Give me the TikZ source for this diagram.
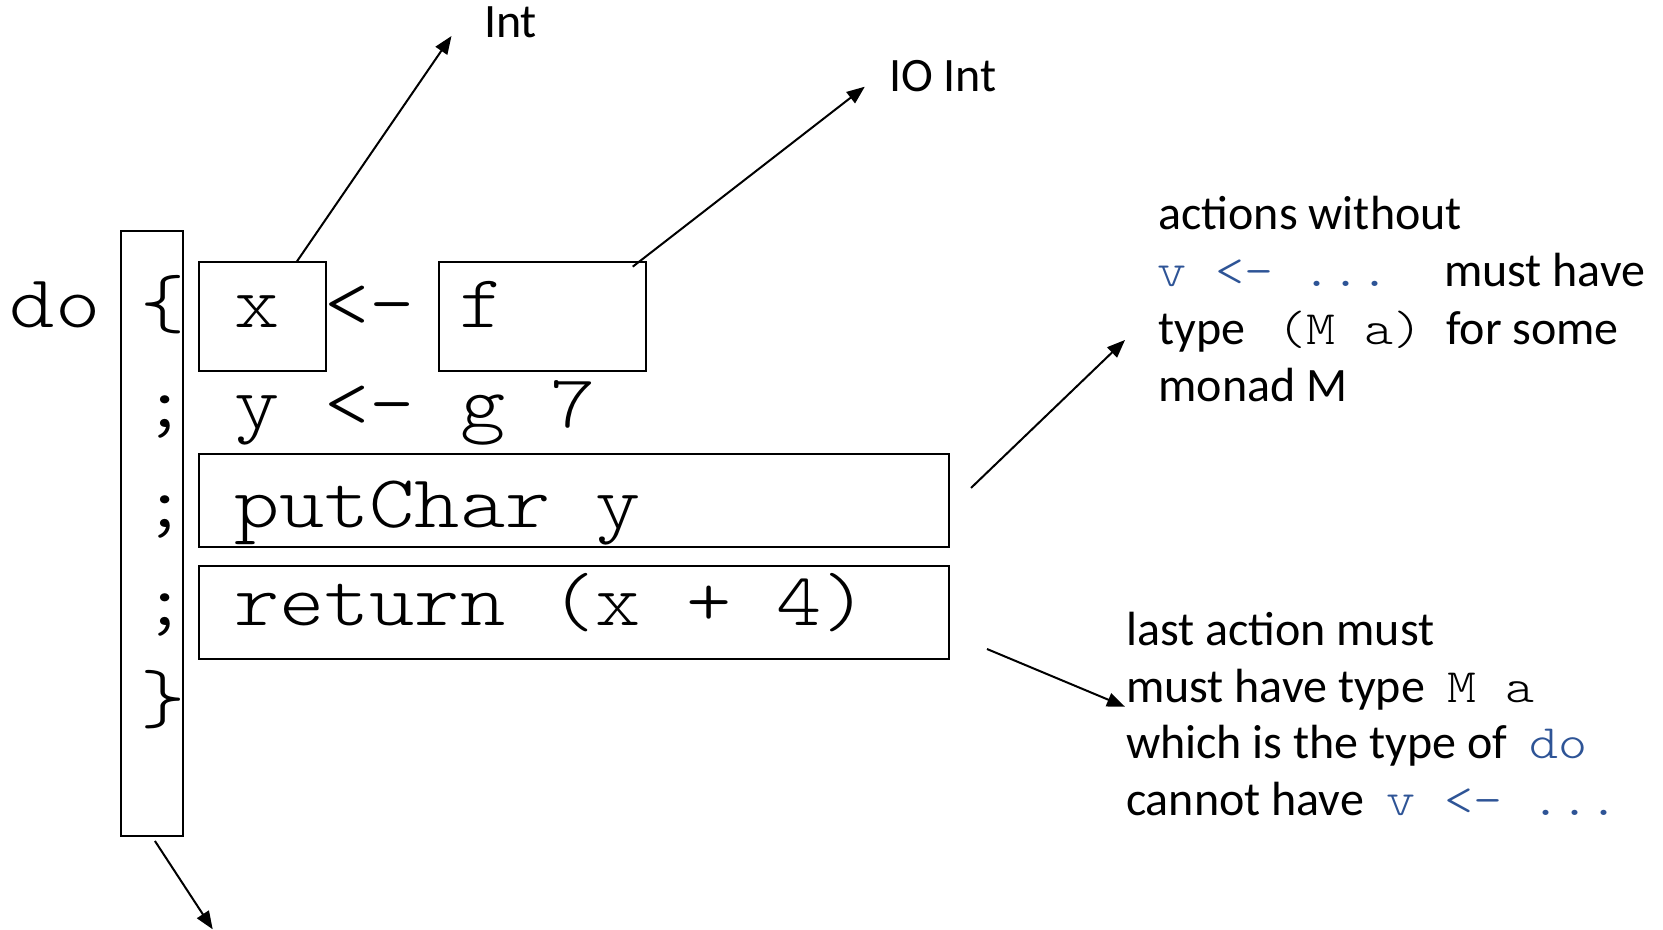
\documentclass[tikz,border=0pt]{standalone}
\usepackage{fontspec}
\setmainfont{Carlito}
\newfontfamily\cf{lmmonolt10-regular}[Extension=.otf,FakeStretch=1.152]
\usetikzlibrary{arrows.meta,calc}
\definecolor{codeblue}{RGB}{46,84,150}
\tikzset{
  box/.style={draw, line width=1pt, inner sep=0pt, outer sep=0pt, rectangle},
  big/.style={anchor=base west, inner sep=0pt, outer sep=0pt, font=\cf\fontsize{37.4pt}{40pt}\selectfont},
  note/.style={anchor=base west, inner sep=0pt, outer sep=0pt, font=\fontsize{24pt}{29pt}\selectfont},
  inl/.style={anchor=base west, inner sep=0pt, outer sep=0pt, font=\cf\fontsize{24pt}{29pt}\selectfont},
  arr/.style={line width=1pt, -{Triangle[length=9pt,width=7pt]}},
}
\begin{document}
\begin{tikzpicture}[x=0.5pt,y=-0.5pt]
\useasboundingbox (0,0) rectangle (1663,930);
% boxes
\node[box, minimum width=30.85pt, minimum height=302.5pt] (tall) at (151.85,533.5) {};
\node[box, minimum width=63.35pt, minimum height=54.65pt] (xbox) at (262.35,316.35) {};
\node[box, minimum width=103.2pt, minimum height=54.65pt] (fbox) at (542.5,316.35) {};
\node[box, minimum width=375.15pt, minimum height=46.65pt] (putbox) at (574.15,500.65) {};
\node[box, minimum width=375.15pt, minimum height=46.5pt] (retbox) at (574.15,612.5) {};
% code
\node[big] (do) at (10,328) {do};
\node[big] (lbrace) at (140.5,328) {\{};
\node[big] (semi2) at (142,427) {;};
\node[big] (semi3) at (142,527) {;};
\node[big] (semi4) at (142,625) {;};
\node[big] (rbrace) at (140.5,722) {\}};
\node[big] (xtxt) at (234,328) {x};
\node[big] (bind1) at (324,328) {<-};
\node[big] (ftxt) at (459,328) {f};
\node[big] (row2) at (234,427) {y <- g 7};
\node[big] (row3) at (234,527) {putChar y};
\node[big] (row4) at (234,625) {return (x + 4)};
% top labels
\node[note] (int) at (484,38) {Int};
\node[note] (ioint) at (889,91.7) {IO Int};
% note 1
\node[note] (n1a) at (1158.5,230) {actions without};
\node[inl, text=codeblue] (n1b) at (1157,287) {v <- ...};
\node[note] (n1c) at (1444,287) {must have};
\node[note] (n1d) at (1158.5,344) {type};
\node[inl] (n1e) at (1277,344) {(M a)};
\node[note] (n1f) at (1446,344) {for some};
\node[note] (n1g) at (1158.5,401) {monad M};
% note 2
\node[note] (n2a) at (1126,645) {last action must};
\node[note] (n2b) at (1126,702) {must have type};
\node[inl] (n2c) at (1447,702) {M a};
\node[note] (n2d) at (1126,758) {which is the type of};
\node[inl, text=codeblue] (n2e) at (1529,758) {do};
\node[note] (n2f) at (1126,815) {cannot have};
\node[inl, text=codeblue] (n2g) at (1386,815) {v <- ...};
% arrow ends
\coordinate (tInt) at (451.5,36);
\coordinate (tIO) at (864.8,86.7);
\coordinate (tN1) at (1125,340);
\coordinate (tN2) at (1125,706.7);
\coordinate (tDo) at (212.7,929.3);
% arrows
\draw[arr] ([xshift=17.2pt]xbox.north) -- (tInt);
\draw[arr] ([xshift=-6.5pt,yshift=-2.5pt]fbox.north east) -- (tIO);
\draw[arr] ([xshift=10.85pt,yshift=6.35pt]putbox.east) -- (tN1);
\draw[arr] ([xshift=18.85pt,yshift=-18.25pt]retbox.east) -- (tN2);
\draw[arr] ([xshift=1.55pt,yshift=-2.5pt]tall.south) -- (tDo);
\end{tikzpicture}
\end{document}
